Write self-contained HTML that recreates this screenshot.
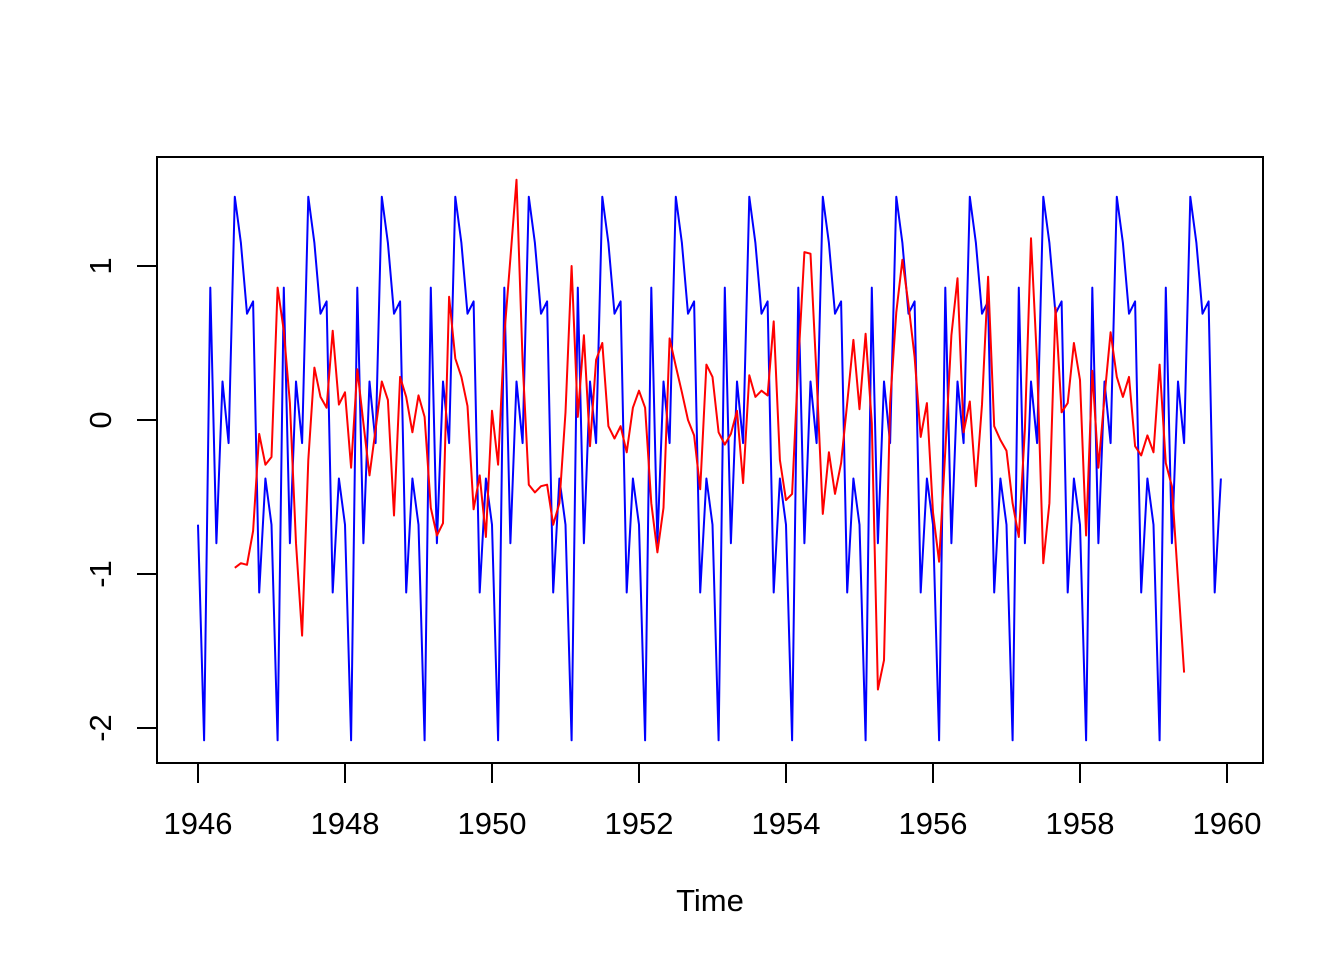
<!DOCTYPE html>
<html><head><meta charset="utf-8"><style>
body{margin:0;background:#fff}
svg text{font-family:"Liberation Sans",Arial,sans-serif;font-size:31px;fill:#000}
</style></head><body>
<svg width="1344" height="960" viewBox="0 0 1344 960">
<rect x="157" y="157" width="1106" height="606" fill="none" stroke="#000" stroke-width="2"/>
<g id="axes"></g>
<g id="series"></g>
<text x="710" y="911" text-anchor="middle">Time</text>
</svg>
<script>
const seasonal = [-0.68,-2.08,0.86,-0.80,0.25,-0.15,1.45,1.15,0.69,0.77,-1.12,-0.38];
const seasonalStart = 1946;
const seasonalCount = 168;
const random = [-0.96,-0.93,-0.94,-0.72,-0.09,-0.29,-0.24,0.86,0.58,0.11,-0.8,-1.40,
-0.26,0.34,0.15,0.08,0.58,0.10,0.18,-0.31,0.33,-0.02,-0.36,-0.06,
0.25,0.13,-0.62,0.28,0.15,-0.08,0.16,0.02,-0.57,-0.75,-0.67,0.80,
0.40,0.28,0.09,-0.58,-0.36,-0.76,0.06,-0.29,0.55,1.05,1.56,0.38,
-0.42,-0.47,-0.43,-0.42,-0.68,-0.54,0.05,1.00,0.02,0.55,-0.17,0.39,
0.50,-0.04,-0.12,-0.04,-0.21,0.08,0.19,0.08,-0.54,-0.86,-0.57,0.53,
0.35,0.18,0.0,-0.1,-0.45,0.36,0.28,-0.08,-0.16,-0.09,0.06,-0.41,
0.29,0.15,0.19,0.16,0.64,-0.26,-0.52,-0.48,0.37,1.09,1.08,0.28,
-0.61,-0.21,-0.48,-0.28,0.11,0.52,0.07,0.56,-0.02,-1.75,-1.56,0.11,
0.70,1.04,0.75,0.41,-0.11,0.11,-0.6,-0.92,-0.2,0.55,0.92,-0.08,
0.12,-0.43,0.1,0.93,-0.04,-0.13,-0.2,-0.54,-0.76,-0.06,1.18,0.37,
-0.93,-0.54,0.73,0.05,0.11,0.50,0.26,-0.75,0.32,-0.31,0.15,0.57,
0.28,0.15,0.28,-0.17,-0.23,-0.1,-0.21,0.36,-0.28,-0.43,-1.04,-1.64];
const randomStart = 1946.5;
const xTicks = [1946,1948,1950,1952,1954,1956,1958,1960];
const yTicks = [-2,-1,0,1];

const NS='http://www.w3.org/2000/svg';
const xs = t => 198 + (t-1946)*(1227-198)/14;
const ys = v => 420 - v*154;
const axes=document.getElementById('axes'), series=document.getElementById('series');
function mk(tag,attrs,parent){const e=document.createElementNS(NS,tag);for(const k in attrs)e.setAttribute(k,attrs[k]);parent.appendChild(e);return e;}
xTicks.forEach(t=>{
  const l=mk('line',{x1:xs(t),x2:xs(t),y1:763,y2:783,stroke:'#000','stroke-width':2},axes);
  
  
  const tx=mk('text',{x:xs(t),y:834,'text-anchor':'middle'},axes);tx.textContent=t;
  
  
});
yTicks.forEach(v=>{
  const l=mk('line',{x1:137,x2:157,y1:ys(v),y2:ys(v),stroke:'#000','stroke-width':2},axes);
  
  
  const tx=mk('text',{x:111,y:ys(v),'text-anchor':'middle',transform:`rotate(-90 111 ${ys(v)})`},axes);tx.textContent=v;
  
  
});
let p=[];for(let i=0;i<seasonalCount;i++)p.push(xs(seasonalStart+i/12).toFixed(1)+','+ys(seasonal[i%12]).toFixed(1));
const b=mk('polyline',{points:p.join(' '),fill:'none',stroke:'#0000ff','stroke-width':2,'stroke-linejoin':'round'},series);


p=random.map((v,i)=>xs(randomStart+i/12).toFixed(1)+','+ys(v).toFixed(1));
const r=mk('polyline',{points:p.join(' '),fill:'none',stroke:'#ff0000','stroke-width':2,'stroke-linejoin':'round'},series);


</script>
</body></html>
